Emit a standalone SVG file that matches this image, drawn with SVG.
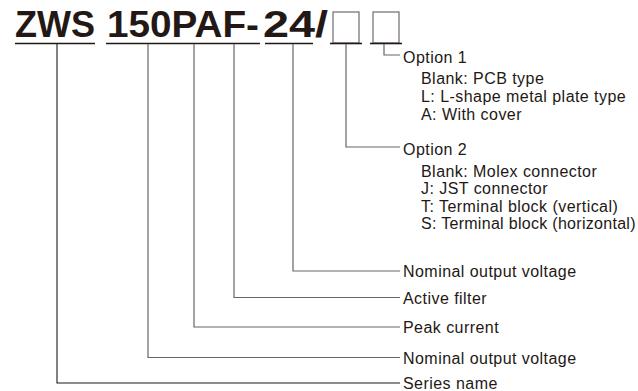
<svg xmlns="http://www.w3.org/2000/svg" width="638" height="391" viewBox="0 0 638 391">
<style>
.title{font-family:"Liberation Sans",Arial,sans-serif;font-weight:bold;font-size:37px;fill:#231815}
.lbl{font-family:"Liberation Sans",Arial,sans-serif;font-size:16px;letter-spacing:0.45px;fill:#231815}
.ul{stroke:#231815;stroke-width:1.6;fill:none}
.box{stroke:#777;stroke-width:1.3;fill:none}
.c{stroke:#666;stroke-width:1.2;fill:none}
.cd{stroke:#231815;stroke-width:1.1;fill:none}
</style>
<rect width="638" height="391" fill="#fff"/>
<g id="title">
<text class="title" x="15" y="37" textLength="80" lengthAdjust="spacingAndGlyphs">ZWS</text>
<text class="title" x="107" y="37" textLength="152" lengthAdjust="spacingAndGlyphs">150PAF-</text>
<text class="title" x="263" y="37" textLength="65" lengthAdjust="spacingAndGlyphs">24/</text>
<rect class="box" x="333" y="12" width="26" height="31"/>
<rect class="box" x="373" y="12" width="26" height="31"/>
<line class="ul" x1="15" y1="43.5" x2="95" y2="43.5"/>
<line class="ul" x1="106" y1="43.5" x2="260" y2="43.5"/>
<line class="ul" x1="265" y1="43.5" x2="313" y2="43.5"/>
<line class="ul" x1="330" y1="43.5" x2="362" y2="43.5"/>
<line class="ul" x1="370" y1="43.5" x2="402" y2="43.5"/>
</g>
<g id="connectors">
<polyline class="c" points="384,44 384,55 400,55"/>
<polyline class="c" points="346,44 346,147 400,147"/>
<polyline class="c" points="293,44 293,271 400,271"/>
<polyline class="c" points="234,44 234,297.5 400,297.5"/>
<polyline class="c" points="194,44 194,327 400,327"/>
<polyline class="c" points="148,44 148,357.5 400,357.5"/>
<polyline class="cd" points="57,44 57,383 400,383"/>
</g>
<g id="option1">
<text class="lbl" x="403" y="62.5">Option 1</text>
<text class="lbl" x="421" y="84">Blank: PCB type</text>
<text class="lbl" x="421" y="102">L: L-shape metal plate type</text>
<text class="lbl" x="421" y="120">A: With cover</text>
</g>
<g id="option2">
<text class="lbl" x="403" y="154.5">Option 2</text>
<text class="lbl" x="421" y="176.5">Blank: Molex connector</text>
<text class="lbl" x="421" y="194">J: JST connector</text>
<text class="lbl" x="421" y="211.5">T: Terminal block (vertical)</text>
<text class="lbl" x="421" y="229" textLength="215" lengthAdjust="spacing">S: Terminal block (horizontal)</text>
</g>
<g id="voltage"><text class="lbl" x="403" y="277">Nominal output voltage</text></g>
<g id="filter"><text class="lbl" x="403" y="303.5">Active filter</text></g>
<g id="current"><text class="lbl" x="403" y="333">Peak current</text></g>
<g id="power"><text class="lbl" x="403" y="363.5">Nominal output voltage</text></g>
<g id="series"><text class="lbl" x="403" y="388.5">Series name</text></g>
</svg>
